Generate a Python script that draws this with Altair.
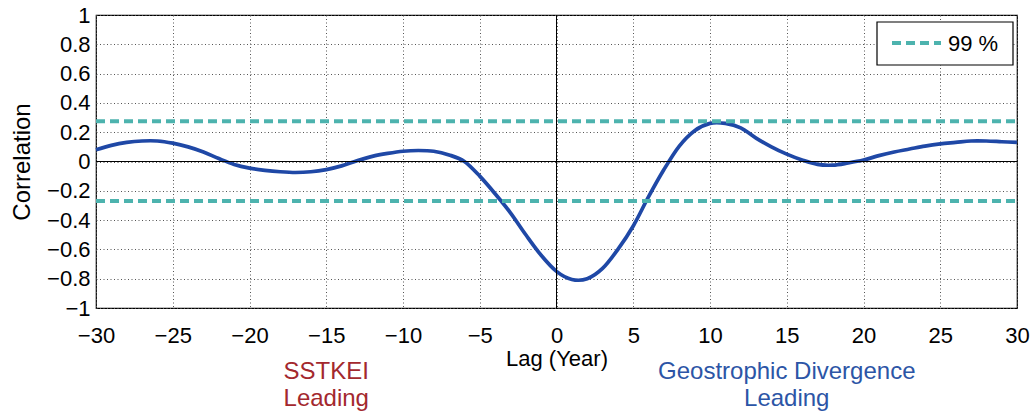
import altair as alt
import pandas as pd

lags = list(range(-30, 31))
corr = [0.08, 0.11, 0.13, 0.14, 0.14, 0.125, 0.10, 0.065, 0.02, -0.02,
        -0.045, -0.06, -0.07, -0.075, -0.07, -0.055, -0.03, 0.005, 0.035, 0.055,
        0.07, 0.075, 0.07, 0.045, 0.0, -0.1, -0.22, -0.35, -0.5, -0.64,
        -0.75, -0.805, -0.80, -0.73, -0.6, -0.44, -0.24, -0.055, 0.105, 0.21,
        0.26, 0.26, 0.23, 0.16, 0.10, 0.05, 0.01, -0.02, -0.025, -0.01,
        0.01, 0.04, 0.065, 0.085, 0.105, 0.12, 0.13, 0.14, 0.14, 0.135, 0.13]

sig_lags = [-30, 30]
sig_upper = [0.275, 0.275]
sig_lower = [-0.27, -0.27]

x_ticks = list(range(-30, 31, 5))
y_ticks = [-1.0, -0.8, -0.6, -0.4, -0.2, 0.0, 0.2, 0.4, 0.6, 0.8, 1.0]

legend_label = ["99 %"]

ann_lag = [-15, 15]
ann_text = ["SSTKEI\nLeading", "Geostrophic Divergence\nLeading"]
ann_color = ["#a3282e", "#2c55a6"]

FONT = "Liberation Sans, Arial"
TEAL = "#4db3ae"
BLUE = "#1f48a6"

df = pd.DataFrame({"lag": lags, "corr": corr})
sig = pd.DataFrame({
    "lag": sig_lags + sig_lags,
    "corr": sig_upper + sig_lower,
    "bound": ["upper"] * len(sig_lags) + ["lower"] * len(sig_lags),
})
ann = pd.DataFrame({"lag": ann_lag, "text": ann_text, "color": ann_color})
leg = pd.DataFrame({"label": legend_label})

xscale = alt.Scale(domain=[-30, 30], nice=False, zero=False)
yscale = alt.Scale(domain=[-1, 1], nice=False)

xaxis = alt.Axis(values=x_ticks, title="Lag (Year)", grid=True,
                 ticks=False, labelPadding=17, labelFlush=False, labelOverlap=False,
                 labelBaseline="top",
                 titleY=57, titleBaseline="alphabetic",
                 labelExpr="replace(datum.label, '-', '\u2212')")
yaxis = alt.Axis(values=y_ticks, title="Correlation",
                 grid=True, ticks=False, labelPadding=6, labelOverlap=False, labelFlush=False,
                 labelBound=False, labelSeparation=0,
                 titleX=-67, titleY=146.5, titleBaseline="alphabetic", titleFontSize=24,
                 labelExpr="replace(format(datum.value, ''), '-', '\u2212')")

X = lambda f: alt.X(f, scale=xscale, axis=xaxis)
Y = lambda f: alt.Y(f, scale=yscale, axis=yaxis)

curve = alt.Chart(df).mark_line(color=BLUE, strokeWidth=3.7, interpolate="cardinal").encode(
    x=X("lag:Q"), y=Y("corr:Q"))

zero_h = alt.Chart(pd.DataFrame({"v": [0]})).mark_rule(color="black", strokeWidth=1).encode(
    y=Y("v:Q"))
zero_v = alt.Chart(pd.DataFrame({"v": [0]})).mark_rule(color="black", strokeWidth=1).encode(
    x=X("v:Q"))

sigl = alt.Chart(sig).mark_line(strokeWidth=4, strokeDash=[9, 5], color=TEAL).encode(
    x=X("lag:Q"), y=Y("corr:Q"), detail="bound:N")

# legend box (top-right)
leg_box = alt.Chart(leg).mark_rect(fill="white", stroke="black", strokeWidth=1.2).encode(
    x=alt.value(781), x2=alt.value(917), y=alt.value(7), y2=alt.value(50))
leg_line = alt.Chart(leg).mark_rule(color=TEAL, strokeWidth=4, strokeDash=[9, 5]).encode(
    x=alt.value(796), x2=alt.value(845), y=alt.value(28))
leg_text = alt.Chart(leg).mark_text(fontSize=22, font=FONT, align="left", baseline="middle",
                                    color="black").encode(
    x=alt.value(852), y=alt.value(29), text="label:N")

texts = alt.Chart(ann).mark_text(fontSize=24, font=FONT, lineBreak="\n", lineHeight=27,
                                 baseline="middle", align="center").encode(
    x=X("lag:Q"),
    y=alt.value(357),
    text="text:N",
    color=alt.Color("color:N", scale=None),
)

chart = alt.layer(curve, zero_h, zero_v, sigl, leg_box, leg_line, leg_text, texts).properties(
    width=921, height=293,
    autosize=alt.AutoSizeParams(type="none"),
    padding={"left": 96, "top": 15, "right": 13, "bottom": 106},
).configure_view(stroke="black", strokeWidth=1.2).configure_axis(
    labelFont=FONT, titleFont=FONT, labelFontSize=22, titleFontSize=22,
    labelColor="black", titleColor="black", titleFontWeight="normal",
    gridColor="#555", gridDash=[1, 2.5], gridWidth=1, domain=False,
)

chart.save("out.html", embed_options={"renderer": "svg", "actions": False})
